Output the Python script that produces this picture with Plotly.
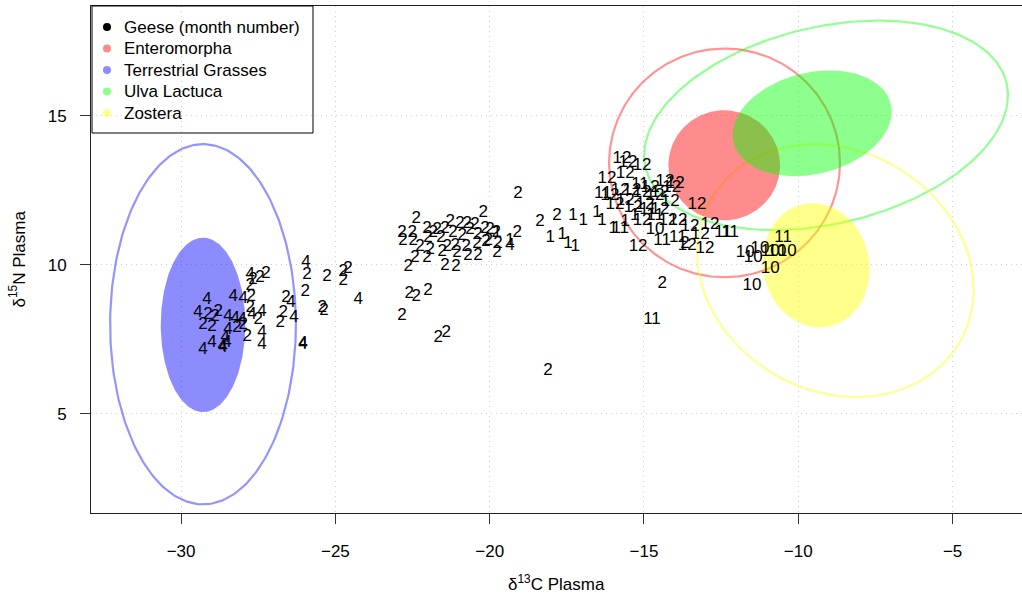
import numpy as np
import plotly.graph_objects as go

# Goose plasma isotopes, labelled with month of sampling
goose_month = (
    [4] * 25
    + [2] * 26
    + [2] * 11
    + [2] * 43
    + [1, 1, 4]
    + [1] * 11
    + [12] * 31
    + [11] * 11
    + [10] * 9
    + [2]
)
goose_d13c = [
    # month 4, left cluster
    -25.95, -24.26, -26.44, -26.34, -26.05, -26.05, -27.76, -29.16, -28.31, -27.99,
    -29.45, -28.48, -28.25, -28.02, -27.70, -27.38, -28.48, -28.57, -28.51, -28.64,
    -27.38, -27.38, -29.00, -29.29, -28.67,
    # month 2, left cluster
    -25.92, -25.27, -24.75, -24.59, -24.75, -25.98, -26.60, -25.43, -25.37, -26.69,
    -26.79, -27.67, -27.44, -27.25, -27.76, -27.73, -27.76, -29.13, -28.90, -28.80,
    -29.29, -29.00, -28.19, -27.99, -27.50, -27.86,
    # month 2, scattered
    -22.84, -22.61, -22.38, -22.00, -21.67, -21.41, -18.11, -19.08, -18.37, -17.82,
    -14.41,
    # month 2, middle cluster
    -22.84, -22.51, -22.38, -22.81, -22.48, -22.26, -22.00, -21.70, -21.45, -21.19,
    -20.96, -20.73, -20.64, -20.38, -20.21, -19.99, -19.79, -21.12, -20.76, -20.41,
    -20.05, -19.73, -21.93, -21.54, -21.06, -20.70, -20.38, -22.42, -22.03, -22.64,
    -21.45, -21.09, -19.76, -19.11, -22.03, -21.83, -21.28, -20.48, -20.15, -21.58,
    -20.89, -20.12, -21.38,
    # months 1 and 4 near -19.5
    -19.76, -19.34, -19.34,
    # month 1
    -18.04, -17.65, -17.46, -17.30, -16.97, -16.52, -16.36, -15.61, -16.00, -17.23,
    -15.30,
    # month 12
    -15.71, -15.52, -15.06, -16.20, -15.61, -14.32, -13.99, -13.28, -15.94, -15.35,
    -15.06, -14.22, -13.90, -13.60, -13.18, -12.86, -15.19, -13.02, -13.51, -14.15,
    -14.48, -15.06, -16.10, -15.77, -15.39, -14.80, -14.64, -15.61, -14.97, -14.48,
    -14.10,
    # month 11
    -16.33, -15.77, -14.74, -14.41, -13.90, -12.44, -12.21, -10.49, -14.64, -14.87,
    -15.13,
    # month 10
    -14.64, -11.72, -11.46, -11.24, -10.91, -10.69, -10.36, -10.91, -11.50,
    # month 2 near -13.7
    -13.67,
]
goose_d15n = [
    10.05, 8.81, 8.71, 8.21, 7.34, 7.30, 9.65, 8.81, 8.91, 8.84,
    8.37, 8.24, 8.20, 8.14, 8.31, 8.41, 7.80, 7.53, 7.37, 7.20,
    7.70, 7.30, 7.37, 7.13, 7.23,
    9.65, 9.58, 9.78, 9.85, 9.45, 9.08, 8.88, 8.54, 8.44, 8.37,
    8.04, 9.48, 9.55, 9.68, 9.31, 8.91, 8.57, 8.31, 8.24, 8.41,
    7.97, 7.90, 7.87, 8.00, 8.14, 7.57,
    8.27, 9.04, 8.94, 9.14, 7.53, 7.70, 6.43, 12.40, 11.43, 11.66,
    9.35,
    11.09, 11.09, 11.56, 10.79, 10.82, 10.62, 10.89, 11.16, 11.22, 11.09,
    11.39, 11.39, 11.16, 10.99, 11.73, 11.16, 11.06, 10.65, 10.62, 10.72,
    10.82, 10.72, 10.49, 10.42, 10.39, 10.29, 10.29, 10.22, 10.22, 9.92,
    9.98, 9.92, 10.39, 11.09, 11.22, 11.09, 11.43, 11.33, 11.22, 10.89,
    10.96, 10.76, 10.62,
    11.09, 10.82, 10.65,
    10.89, 10.99, 10.72, 11.66, 11.49, 11.76, 11.49, 11.43, 11.22, 10.59,
    11.66,
    13.57, 13.41, 13.34, 12.90, 13.07, 12.77, 12.73, 12.00, 12.00, 11.90,
    11.49, 11.49, 11.49, 10.65, 10.99, 11.33, 10.59, 10.55, 11.26, 12.10,
    12.43, 12.43, 12.33, 12.50, 12.50, 12.57, 12.33, 12.16, 12.00, 11.83,
    12.60,
    12.37, 11.22, 8.14, 10.82, 10.89, 11.09, 11.09, 10.92, 11.66, 11.83,
    12.67,
    11.19, 10.39, 10.25, 10.55, 10.42, 10.42, 10.42, 9.88, 9.31,
    10.72,
]

# Food sources: (centre x, centre y, semi-axis a, semi-axis b, angle in degrees)
source_names = ["Enteromorpha", "Terrestrial Grasses", "Ulva Lactuca", "Zostera"]
source_rgb = ["255,0,0", "0,0,255", "0,255,0", "255,255,0"]
standard_ellipses = [
    (-12.40, 13.34, 1.81, 1.85, 0),
    (-29.29, 7.98, 1.37, 2.93, 0),
    (-9.55, 14.75, 2.63, 1.70, 15),
    (-9.42, 9.98, 2.10, 1.72, 100),
]
wide_ellipses = [
    (-12.39, 13.42, 3.74, 3.84, 0),
    (-29.29, 8.00, 3.01, 6.05, 0),
    (-9.10, 14.68, 6.02, 3.30, 14),
    (-8.80, 9.80, 4.70, 4.00, -35),
]

legend_labels = ["Geese (month number)"] + source_names
legend_colors = ["black"] + [f"rgba({c},0.45)" for c in source_rgb]

x_ticks = [-30, -25, -20, -15, -10, -5]
y_ticks = [5, 10, 15]

FONT = "Liberation Sans, Arial, Helvetica, sans-serif"
FS = 17


def ellipse_xy(cx, cy, a, b, angle_deg, n=240):
    t = np.linspace(0, 2 * np.pi, n)
    th = np.deg2rad(angle_deg)
    x = cx + a * np.cos(t) * np.cos(th) - b * np.sin(t) * np.sin(th)
    y = cy + a * np.cos(t) * np.sin(th) + b * np.sin(t) * np.cos(th)
    return x, y


fig = go.Figure()

# wide ellipses as outlines
for name, rgb, e in zip(source_names, source_rgb, wide_ellipses):
    x, y = ellipse_xy(*e)
    fig.add_trace(go.Scatter(
        x=x, y=y, mode="lines", line=dict(color=f"rgba({rgb},0.42)", width=2.2),
        showlegend=False, hoverinfo="skip"))

# standard ellipses filled
for name, rgb, e in zip(source_names, source_rgb, standard_ellipses):
    x, y = ellipse_xy(*e)
    fig.add_trace(go.Scatter(
        x=x, y=y, mode="lines", fill="toself", line=dict(width=0),
        fillcolor=f"rgba({rgb},0.45)", showlegend=False, hoverinfo="skip"))

# geese labelled by month
fig.add_trace(go.Scatter(
    x=goose_d13c, y=goose_d15n, mode="text",
    text=[str(m) for m in goose_month],
    textposition="middle center",
    textfont=dict(family=FONT, size=FS, color="black"),
    showlegend=False, hoverinfo="skip"))

# legend box drawn in pixel offsets from the top-left plot corner
shapes = [dict(type="rect", xref="paper", yref="paper",
               xsizemode="pixel", ysizemode="pixel", xanchor=0, yanchor=1,
               x0=1, x1=222, y0=-127, y1=0,
               line=dict(color="black", width=1), fillcolor="rgba(0,0,0,0)",
               layer="above")]
annotations = []
row_step = 21.5
for i, (lab, col) in enumerate(zip(legend_labels, legend_colors)):
    yc = 21 + i * row_step
    shapes.append(dict(type="circle", xref="paper", yref="paper",
                       xsizemode="pixel", ysizemode="pixel", xanchor=0, yanchor=1,
                       x0=12, x1=20, y0=-yc - 4, y1=-yc + 4,
                       line=dict(width=0), fillcolor=col, layer="above"))
    annotations.append(dict(text=lab, xref="paper", yref="paper", x=0, y=1,
                            xshift=31, yshift=-yc, xanchor="left", yanchor="middle",
                            showarrow=False, font=dict(family=FONT, size=FS)))

annotations += [
    dict(text="δ<sup>13</sup>C Plasma", xref="paper", yref="paper",
         x=0.5, y=0, yshift=-70, xanchor="center", yanchor="middle",
         showarrow=False, font=dict(family=FONT, size=FS)),
    dict(text="δ<sup>15</sup>N Plasma", xref="paper", yref="paper",
         x=0, y=0.5, xshift=-74, xanchor="center", yanchor="middle",
         textangle=-90, showarrow=False, font=dict(family=FONT, size=FS)),
]

axis_common = dict(
    showline=True, linecolor="#222", linewidth=1,
    ticks="outside", ticklen=10, tickcolor="#333", tickwidth=1,
    showgrid=True, gridcolor="#cfcfcf", griddash="1px,4px", gridwidth=1,
    zeroline=False, tickfont=dict(family=FONT, size=FS, color="black"),
)

fig.update_layout(
    width=1022, height=597,
    margin=dict(l=91, r=0, t=6, b=84),
    paper_bgcolor="white", plot_bgcolor="white",
    font=dict(family=FONT, size=FS, color="black"),
    showlegend=False,
    xaxis=dict(range=[-32.92, -2.75], tickvals=x_ticks, mirror=True,
               ticklabelstandoff=13, **axis_common),
    yaxis=dict(range=[1.66, 18.69], tickvals=y_ticks, mirror=False,
               ticklabelstandoff=10, **axis_common),
    shapes=shapes,
    annotations=annotations,
)

fig.write_html("out.html")
